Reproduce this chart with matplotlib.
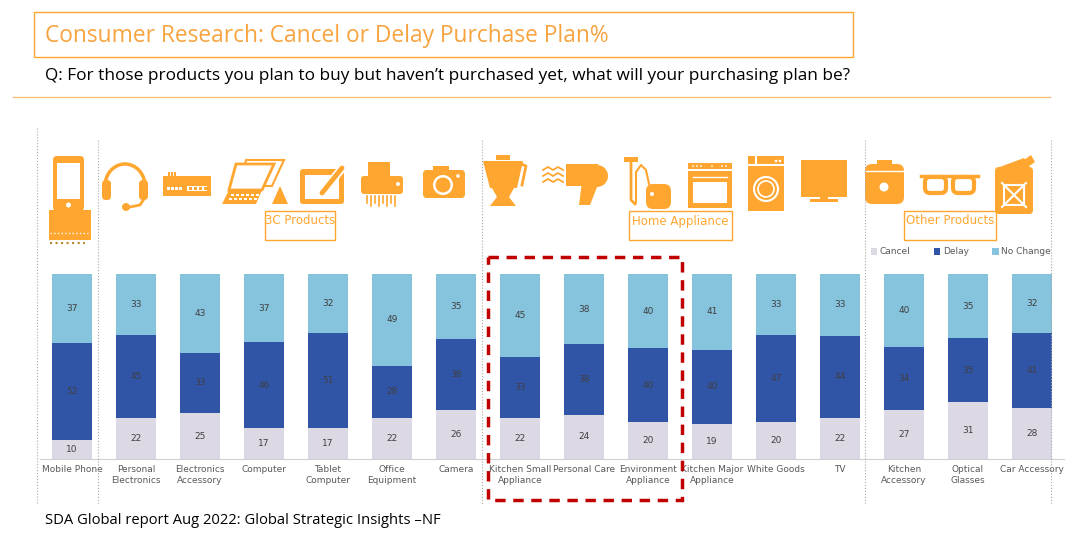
import matplotlib
matplotlib.use('Agg')
import matplotlib.pyplot as plt
from matplotlib.patches import Rectangle, FancyBboxPatch, Circle, Polygon, Arc
import numpy as np

categories = ['Mobile Phone', 'Personal\nElectronics', 'Electronics\nAccessory', 'Computer',
              'Tablet\nComputer', 'Office\nEquipment', 'Camera', 'Kitchen Small\nAppliance',
              'Personal Care', 'Environment\nAppliance', 'Kitchen Major\nAppliance', 'White Goods',
              'TV', 'Kitchen\nAccessory', 'Optical\nGlasses', 'Car Accessory']
cancel = [10, 22, 25, 17, 17, 22, 26, 22, 24, 20, 19, 20, 22, 27, 31, 28]
delay = [52, 45, 33, 46, 51, 28, 38, 33, 38, 40, 40, 47, 44, 34, 35, 41]
no_change = [37, 33, 43, 37, 32, 49, 35, 45, 38, 40, 41, 33, 33, 40, 35, 32]
series_names = ['Cancel', 'Delay', 'No Change']
group_names = ['3C Products', 'Home Appliance', 'Other Products']

ORANGE = '#FFA630'
TITLE_OR = '#F7A440'
colors = ['#DCD8E4', '#3155A6', '#86C3DD']

W, H = 1078, 544
fig = plt.figure(figsize=(W / 100, H / 100), dpi=100)

# stacked 100% bars
ax = fig.add_axes([40 / W, (H - 459) / H, 1024 / W, 185 / H])
x = np.arange(len(categories))
vals = np.array([cancel, delay, no_change], dtype=float)
shares = vals / vals.sum(axis=0) * 100
bottom = np.zeros(len(categories))
for i, name in enumerate(series_names):
    bars = ax.bar(x, shares[i], 0.625, bottom=bottom, color=colors[i], label=name)
    ax.bar_label(bars, labels=[str(int(v)) for v in vals[i]], label_type='center',
                 fontsize=6.5, color='#404040')
    bottom += shares[i]
ax.set_xlim(-0.5, len(categories) - 0.5)
ax.set_ylim(0, 100)
ax.set_xticks(x)
ax.set_xticklabels(categories, fontsize=6.5, color='#595959', linespacing=1.3)
ax.tick_params(axis='x', length=0, pad=4)
ax.set_yticks([])
for s in ['top', 'right', 'left']:
    ax.spines[s].set_visible(False)
ax.spines['bottom'].set_color('#D0D0D0')

fig.legend(loc='center left', bbox_to_anchor=(866 / W, (H - 252) / H), ncol=3, frameon=False,
           fontsize=6.5, labelcolor='#595959', handlelength=0.7, handleheight=0.7,
           handletextpad=0.3, columnspacing=2.6, borderpad=0)

# overlay in pixel coordinates
ov = fig.add_axes([0, 0, 1, 1])
ov.set_xlim(0, W)
ov.set_ylim(H, 0)
ov.axis('off')

ov.add_patch(Rectangle((34, 12), 819, 45, fill=False, ec=ORANGE, lw=1))
ov.text(45, 36, 'Consumer Research: Cancel or Delay Purchase Plan%', fontsize=16.4,
        color=TITLE_OR, va='center', family='Open Sans')
ov.text(45, 76, "Q: For those products you plan to buy but haven\u2019t purchased yet, what will your purchasing plan be?",
        fontsize=12.4, color='black', va='center', family='Open Sans')
ov.plot([13, 1050], [97, 97], color='#F8C27A', lw=1)
ov.text(45, 520, 'SDA Global report Aug 2022: Global Strategic Insights \u2013NF', fontsize=10.6,
        color='black', va='center', family='Open Sans')

# separators
for sx, sy in [(37, 128), (98, 140), (482, 140), (865, 140), (1051, 140)]:
    ov.plot([sx, sx], [sy, 505], color='#A8A8A8', lw=0.8, ls=':')

# group label boxes
for name, (bx, bw) in zip(group_names, [(265, 70), (629, 103), (904, 92)]):
    ov.add_patch(Rectangle((bx, 211), bw, 29, fill=False, ec=ORANGE, lw=1))
    ov.text(bx + bw / 2, 221, name, fontsize=8.5, color=ORANGE, ha='center', va='center')

# highlight box
ov.add_patch(Rectangle((488, 257), 194, 243, fill=False, ec='#C00000', lw=2.5, ls=(0, (3, 2.2))))


def rbox(x0, y0, w, h, r=4, **kw):
    kw.setdefault('fc', ORANGE)
    kw.setdefault('ec', 'none')
    ov.add_patch(FancyBboxPatch((x0, y0), w, h, boxstyle=f'round,pad=0,rounding_size={r}', **kw))


def rect(x0, y0, w, h, c=ORANGE):
    ov.add_patch(Rectangle((x0, y0), w, h, fc=c, ec='none'))


# icons (rough)
# phone
rbox(53, 156, 31, 55)
rect(57, 163, 23, 36, 'white')
ov.add_patch(Circle((68.5, 205), 2.5, fc='white'))
rect(49, 210, 42, 30)
ov.plot([50, 88], [233, 233], color='white', lw=1, ls=':')
ov.plot([50, 85], [243, 243], color='#B8862B', lw=1.5, ls=':')
# headset
ov.add_patch(Arc((125, 186), 40, 44, theta1=180, theta2=360, color=ORANGE, lw=2.5))
rbox(102, 180, 9, 20, r=4)
rbox(139, 180, 9, 20, r=4)
ov.plot([144, 140, 130], [199, 205, 207], color=ORANGE, lw=2)
ov.add_patch(Circle((126, 207), 4, fc=ORANGE))
# electronics accessory
rect(163, 176, 48, 20)
for i in range(4):
    rect(167 + i * 4, 187, 2.5, 3, 'white')
rect(187, 186, 20, 5, 'white')
for i in range(4):
    rect(188.5 + i * 5, 187, 3, 3)
for i in range(3):
    rect(168 + i * 3, 172, 1.5, 4)
# laptop
ov.add_patch(Polygon([(246, 160), (284, 160), (272, 186), (240, 186)], closed=True, fill=False, ec=ORANGE, lw=1.5))
ov.add_patch(Polygon([(236, 164), (274, 164), (262, 190), (229, 190)], closed=True, fc='white', ec=ORANGE, lw=2))
ov.add_patch(Polygon([(229, 190), (262, 190), (256, 204), (222, 204)], closed=True, fc=ORANGE))
for i in range(6):
    rect(231 + i * 5, 194, 3, 2, 'white')
    rect(229 + i * 5, 198, 3, 2, 'white')
ov.add_patch(Polygon([(280, 186), (288, 204), (272, 204)], closed=True, fc=ORANGE))
# tablet
rbox(300, 169, 44, 35, r=3)
rect(305, 175, 34, 24, 'white')
ov.plot([322, 343], [193, 167], color='white', lw=6, solid_capstyle='round')
ov.plot([322, 342], [193, 168], color=ORANGE, lw=3.5, solid_capstyle='round')
# shredder
rect(368, 162, 22, 14)
rbox(361, 176, 42, 18, r=3)
ov.add_patch(Circle((398, 184), 2, fc='white'))
for i in range(8):
    ov.plot([367 + i * 4, 367 + i * 4], [196, 203 + (i % 2) * 3], color=ORANGE, lw=1.2)
# camera
rbox(423, 170, 42, 28, r=4)
rect(433, 166, 16, 6)
ov.add_patch(Circle((443, 185), 10, fc='white'))
ov.add_patch(Circle((443, 185), 7.5, fc=ORANGE))
ov.add_patch(Circle((458, 176), 1.8, fc='white'))
# blender
rect(496, 155, 14, 5)
ov.add_patch(Polygon([(483, 161), (523, 161), (517, 188), (490, 188)], closed=True, fc=ORANGE))
ov.plot([521, 526, 522], [164, 166, 185], color=ORANGE, lw=2)
ov.add_patch(Polygon([(492, 188), (514, 188), (509, 197), (516, 206), (490, 206), (497, 197)], closed=True, fc=ORANGE))
# hair dryer
for i in range(3):
    ov.plot([543, 548, 553, 558, 563], [170 + i * 6, 167 + i * 6, 170 + i * 6, 167 + i * 6, 170 + i * 6],
            color=ORANGE, lw=1.3)
ov.add_patch(Polygon([(566, 164), (598, 164), (598, 186), (566, 186)], closed=True, fc=ORANGE))
ov.add_patch(Circle((597, 176), 11, fc=ORANGE))
ov.add_patch(Polygon([(582, 182), (599, 182), (590, 205), (579, 205)], closed=True, fc=ORANGE))
# vacuum
rect(624, 157, 14, 5)
ov.plot([631, 631, 635], [160, 200, 204], color=ORANGE, lw=2)
ov.plot([636, 636, 641, 646, 649], [202, 172, 165, 170, 184], color=ORANGE, lw=1.5)
rbox(646, 184, 25, 25, r=7)
ov.add_patch(Circle((652, 194), 2, fc='white'))
# oven
rect(688, 163, 44, 6)
for xx in [693, 697, 701, 712, 722, 726]:
    ov.add_patch(Circle((xx, 166), 0.9, fc='white'))
rect(688, 171, 44, 37)
rect(693, 182, 34, 21, 'white')
ov.plot([693, 727], [177, 177], color='white', lw=1)
# washer
rect(748, 156, 36, 55)
ov.plot([748, 784], [165, 165], color='white', lw=1.5)
ov.plot([756, 756], [156, 165], color='white', lw=1.5)
ov.add_patch(Circle((776, 161), 1.3, fc='white'))
ov.add_patch(Circle((780, 161), 1.3, fc='white'))
ov.add_patch(Circle((766, 189), 12, fill=False, ec='white', lw=1.5))
ov.add_patch(Circle((766, 189), 8, fill=False, ec='white', lw=1.2))
# TV
rect(801, 160, 46, 37)
rect(820, 197, 8, 3)
rect(810, 199, 28, 2.5)
# rice cooker
rect(877, 160, 15, 5)
rbox(865, 164, 39, 40, r=7)
ov.plot([866, 903], [171, 171], color='white', lw=1)
ov.add_patch(Circle((884, 187), 4.5, fc='white'))
# glasses
ov.plot([921, 978], [176, 176], color=ORANGE, lw=2.5)
rbox(925, 177, 21, 16, r=5, fill=False, ec=ORANGE, lw=3)
rbox(953, 177, 21, 16, r=5, fill=False, ec=ORANGE, lw=3)
# jerrycan
ov.add_patch(Polygon([(997, 168), (1024, 158), (1030, 168)], closed=True, fc=ORANGE))
ov.add_patch(Polygon([(1024, 160), (1031, 155), (1035, 162), (1028, 167)], closed=True, fc=ORANGE))
rbox(995, 167, 38, 47, r=4)
ov.add_patch(Rectangle((1004, 185), 20, 20, fill=False, ec='white', lw=1.5))
ov.plot([1002, 1026], [183, 207], color='white', lw=1.5)
ov.plot([1026, 1002], [183, 207], color='white', lw=1.5)

fig.savefig('out.png', dpi=100)
